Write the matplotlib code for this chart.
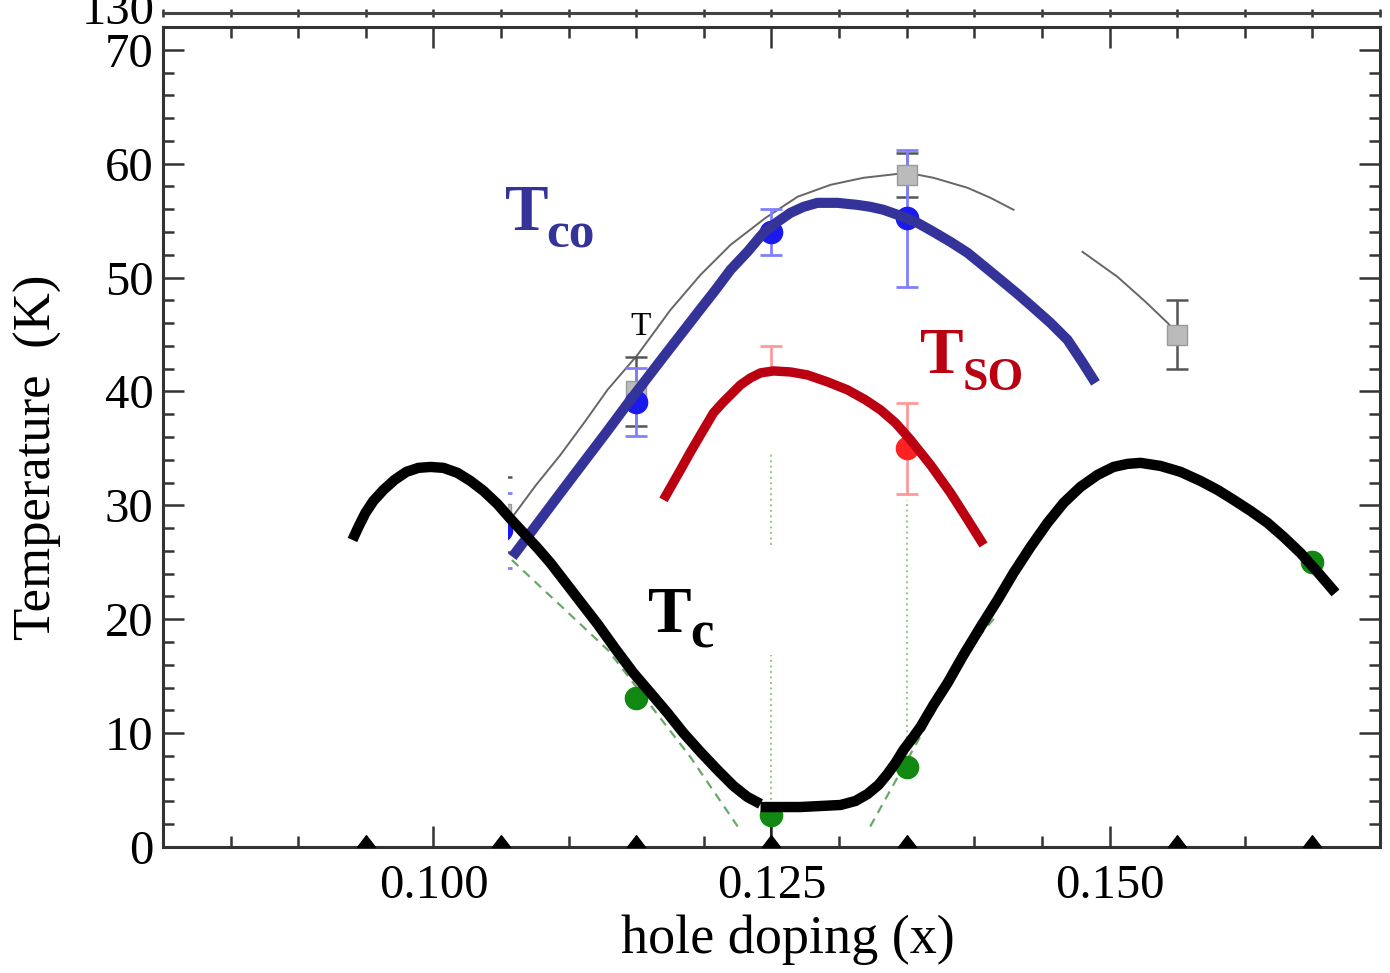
import matplotlib
matplotlib.use("Agg")
import matplotlib.pyplot as plt
from matplotlib.patches import Rectangle
from matplotlib.path import Path
from matplotlib.ticker import MultipleLocator

plt.rcParams['font.family'] = ['Liberation Serif', 'DejaVu Serif']

# ---------------- data ----------------
# thick hand-drawn curves
tc_left_x = [0.09401, 0.09445, 0.09497, 0.09556, 0.09630, 0.09712, 0.09800, 0.09889,
             0.09978, 0.10074, 0.10178, 0.10274, 0.10370, 0.10473, 0.10570, 0.10666,
             0.10769, 0.10865, 0.10962, 0.11087, 0.11213, 0.11346, 0.11479, 0.11605,
             0.11731, 0.11849, 0.11975, 0.12101, 0.12219, 0.12322, 0.12419]
tc_left_y = [26.96, 28.10, 29.33, 30.39, 31.35, 32.23, 32.94, 33.29,
             33.37, 33.29, 32.85, 32.14, 31.27, 30.12, 28.81, 27.58,
             26.26, 24.94, 23.45, 21.52, 19.59, 17.39, 15.28, 13.53,
             11.77, 10.01, 8.34, 6.76, 5.36, 4.39, 3.78]
tc_right_x = [0.12419, 0.12714, 0.13010, 0.13121, 0.13210, 0.13291, 0.13358, 0.13417,
              0.13476, 0.13543, 0.13602, 0.13698, 0.13802, 0.13920, 0.14046, 0.14172,
              0.14290, 0.14416, 0.14541, 0.14660, 0.14785, 0.14911, 0.15029, 0.15133,
              0.15229, 0.15377, 0.15525, 0.15673, 0.15799, 0.15917, 0.16043, 0.16168,
              0.16287, 0.16412, 0.16538, 0.16671]
tc_right_y = [3.51, 3.51, 3.69, 4.04, 4.65, 5.45, 6.41, 7.38,
              8.52, 9.57, 10.54, 12.47, 14.40, 16.86, 19.32, 21.69,
              24.06, 26.35, 28.46, 30.21, 31.62, 32.67, 33.37, 33.64,
              33.73, 33.46, 32.94, 32.14, 31.35, 30.48, 29.51, 28.46,
              27.23, 25.82, 24.15, 22.31]
tco_x = [0.10584, 0.10939, 0.11287, 0.11457, 0.11701, 0.11953, 0.12086, 0.12197,
         0.12322, 0.12441, 0.12544, 0.12640, 0.12737, 0.12840, 0.12988, 0.13136,
         0.13232, 0.13328, 0.13454, 0.13580, 0.13698, 0.13824, 0.13950, 0.14068,
         0.14194, 0.14319, 0.14438, 0.14563, 0.14689, 0.14793, 0.14896]
tco_y = [25.47, 31.09, 36.54, 39.26, 43.04, 46.90, 48.92, 50.68,
         52.26, 53.93, 54.89, 55.68, 56.21, 56.56, 56.56, 56.38,
         56.21, 55.95, 55.42, 54.80, 54.01, 53.13, 52.17, 51.03,
         49.80, 48.57, 47.34, 46.02, 44.53, 42.68, 40.75]
tso_x = [0.11701, 0.11768, 0.11827, 0.11901, 0.11975, 0.12071, 0.12138, 0.12197,
         0.12271, 0.12345, 0.12419, 0.12515, 0.12640, 0.12766, 0.12914, 0.13062,
         0.13195, 0.13306, 0.13417, 0.13528, 0.13676, 0.13824, 0.13942, 0.14068]
tso_y = [30.48, 31.88, 33.11, 34.69, 36.19, 38.12, 39.00, 39.70,
         40.58, 41.19, 41.63, 41.80, 41.71, 41.45, 40.84, 40.14,
         39.26, 38.38, 37.24, 35.75, 33.55, 31.09, 28.90, 26.52]

# thin gray fit line (two visible parts)
fit1_x = [0.10584, 0.10754, 0.10939, 0.11124, 0.11287, 0.11509, 0.11753, 0.11975,
          0.12197, 0.12456, 0.12692, 0.12936, 0.13180, 0.13506, 0.13698, 0.13950,
          0.14120, 0.14290]
fit1_y = [28.98, 31.71, 34.43, 37.41, 40.14, 43.21, 47.16, 50.24,
          52.87, 55.24, 57.09, 58.14, 58.76, 59.20, 58.76, 57.88,
          57.00, 55.95]
fit2_x = [0.14800, 0.15059, 0.15266, 0.15429, 0.15510]
fit2_y = [52.26, 50.06, 47.87, 46.02, 44.97]

# data points
gray_x = [0.105, 0.115, 0.135, 0.155]
gray_y = [29.2, 40.0, 59.0, 45.0]
gray_err = [3.3, 3.0, 1.9, 3.0]
blue_x = [0.105, 0.115, 0.125, 0.135]
blue_y = [27.8, 39.1, 54.0, 55.2]
blue_err = [3.3, 3.0, 2.0, 6.0]
red_x = [0.135]
red_y = [35.0]
red_err = [4.0]
red_top_x = [0.125]
red_top_y = [41.8]
red_top_err = [2.2]
green_x = [0.115, 0.125, 0.135, 0.165]
green_y = [13.1, 2.8, 7.0, 25.0]
gdash1_x = [0.1058, 0.1129, 0.1190, 0.1225]
gdash1_y = [25.2, 17.3, 7.9, 1.8]
gdash2_x = [0.1323, 0.1345, 0.1397, 0.1417]
gdash2_y = [1.8, 6.5, 17.6, 20.4]
vdot_x = [0.125, 0.125, 0.135]
vdot_lo = [26.5, 3.2, 7.6]
vdot_hi = [34.7, 16.9, 30.5]
tri_x = [0.095, 0.105, 0.115, 0.125, 0.135, 0.155, 0.165]

xlim = (0.08, 0.17)
ylim = (0, 72)
xticks = [0.100, 0.125, 0.150]
xticklabels = ['0.100', '0.125', '0.150']
yticks = [0, 10, 20, 30, 40, 50, 60, 70]

# ---------------- figure ----------------
W, H = 1390, 973
fig = plt.figure(figsize=(W / 100, H / 100), dpi=100)
L, R, B, T = 163, 1380, 847, 27
ax = fig.add_axes([L / W, 1 - B / H, (R - L) / W, (B - T) / H])
ax.set_xlim(*xlim)
ax.set_ylim(*ylim)

spine_c = '#333333'
for s in ax.spines.values():
    s.set_linewidth(2.2)
    s.set_color(spine_c)

ax.set_xticks(xticks)
ax.set_xticklabels(xticklabels)
ax.set_yticks(yticks)
ax.xaxis.set_minor_locator(MultipleLocator(0.005))
ax.yaxis.set_minor_locator(MultipleLocator(2))
ax.tick_params(which='both', direction='in', top=True, right=True,
               color=spine_c, width=1.8)
ax.tick_params(which='major', length=15, labelsize=35)
ax.tick_params(which='minor', length=8)
ax.tick_params(axis='y', which='major', pad=7)
ax.tick_params(axis='x', which='major', pad=12)

# vertical dotted guide lines
for xv, lo, hi in zip(vdot_x, vdot_lo, vdot_hi):
    ax.plot([xv, xv], [lo, hi], ls=':', color='#99cc99', lw=1.5, zorder=1)

# green dashed
ax.plot(gdash1_x, gdash1_y, ls=(0, (4, 3)), color='#66aa66', lw=1.6, zorder=1)
ax.plot(gdash2_x, gdash2_y, ls=(0, (4, 3)), color='#66aa66', lw=1.6, zorder=1)

# gray fit
ax.plot(fit1_x, fit1_y, color='#666666', lw=1.4, zorder=2, solid_joinstyle='round')
ax.plot(fit2_x, fit2_y, color='#666666', lw=1.4, zorder=2, solid_joinstyle='round')

# errorbar points
ax.errorbar(gray_x, gray_y, yerr=gray_err, fmt='s', ms=14, mfc='#bbbbbb', mec='#999999',
            ecolor='#555555', elinewidth=1.8, capsize=8, capthick=1.8, zorder=3)
ax.errorbar(blue_x, blue_y, yerr=blue_err, fmt='o', ms=16, mfc='#1a1aee', mec='#1a1aee',
            ecolor='#8080ff', elinewidth=2, capsize=8, capthick=2, zorder=3)
ax.errorbar(red_x, red_y, yerr=red_err, fmt='o', ms=16, mfc='#ff2222', mec='#ff2222',
            ecolor='#ff9999', elinewidth=2, capsize=8, capthick=2, zorder=3)
ax.errorbar(red_top_x, red_top_y, yerr=[[0], red_top_err], fmt='none',
            ecolor='#ff9999', elinewidth=2, capsize=8, capthick=2, zorder=3)
ax.plot([green_x[1], green_x[1]], [0, green_y[1]], color='#222222', lw=1.5, zorder=3)
ax.plot(green_x, green_y, 'o', ms=16, color='#118811', zorder=3, ls='none')

# white cut-out that hides part of the x=0.105 markers
ax.add_patch(Rectangle((0.0865, 2.4), 0.1055 - 0.0865, 31.0, facecolor='white',
                       edgecolor='none', zorder=4))

# triangles on the bottom axis
tri = Path([(-1, 0), (1, 0), (0, 1.3), (-1, 0)],
           [Path.MOVETO, Path.LINETO, Path.LINETO, Path.CLOSEPOLY])
ax.plot(tri_x, [0] * len(tri_x), ls='none', marker=tri, ms=17, color='black',
        clip_on=False, zorder=6)

# thick curves
kw = dict(solid_capstyle='butt', solid_joinstyle='round', zorder=5)
ax.plot(tso_x, tso_y, color='#bb0011', lw=6.8, **kw)
ax.plot(tco_x, tco_y, color='#333399', lw=7.3, **kw)
ax.plot(tc_left_x, tc_left_y, color='black', lw=7.5, **kw)
ax.plot(tc_right_x, tc_right_y, color='black', lw=7.5, **kw)

# curve labels (pixel positions converted to figure coords)
def ftext(px, py, s, **kw):
    fig.text(px / W, 1 - py / H, s, **kw)

ftext(505, 230, 'T', fontsize=47, fontweight='bold', color='#333399', va='baseline')
ftext(546, 247, 'co', fontsize=37, fontweight='bold', color='#333399', va='baseline')
ftext(920, 373, 'T', fontsize=47, fontweight='bold', color='#bb0011', va='baseline')
ftext(963, 390, 'SO', fontsize=33, fontweight='bold', color='#bb0011', va='baseline')
ftext(648, 632, 'T', fontsize=47, fontweight='bold', color='black', va='baseline')
ftext(690, 648, 'c', fontsize=38, fontweight='bold', color='black', va='baseline')
ftext(641, 335, 'T', fontsize=24, color='black', va='baseline', ha='center')

# axis labels
ftext(38, 457, 'Temperature  (K)', fontsize=38, rotation=90, ha='center', va='center')
ftext(788, 940, 'hole doping (x)', fontsize=39, ha='center', va='center')

# remnant of the panel above
axt = fig.add_axes([L / W, 1 - 13 / H, (R - L) / W, 0.0001])
axt.set_xlim(*xlim)
axt.patch.set_visible(False)
for k in ['top', 'left', 'right']:
    axt.spines[k].set_visible(False)
axt.spines['bottom'].set_linewidth(2.2)
axt.spines['bottom'].set_color('#444444')
axt.set_yticks([])
axt.xaxis.set_major_locator(MultipleLocator(0.005))
axt.tick_params(axis='x', direction='inout', length=6, width=1.8, color='#333333',
                labelbottom=False)
ftext(155, 12, '130', fontsize=35, ha='right', va='center')

fig.savefig('out.png', dpi=100, facecolor='white')
